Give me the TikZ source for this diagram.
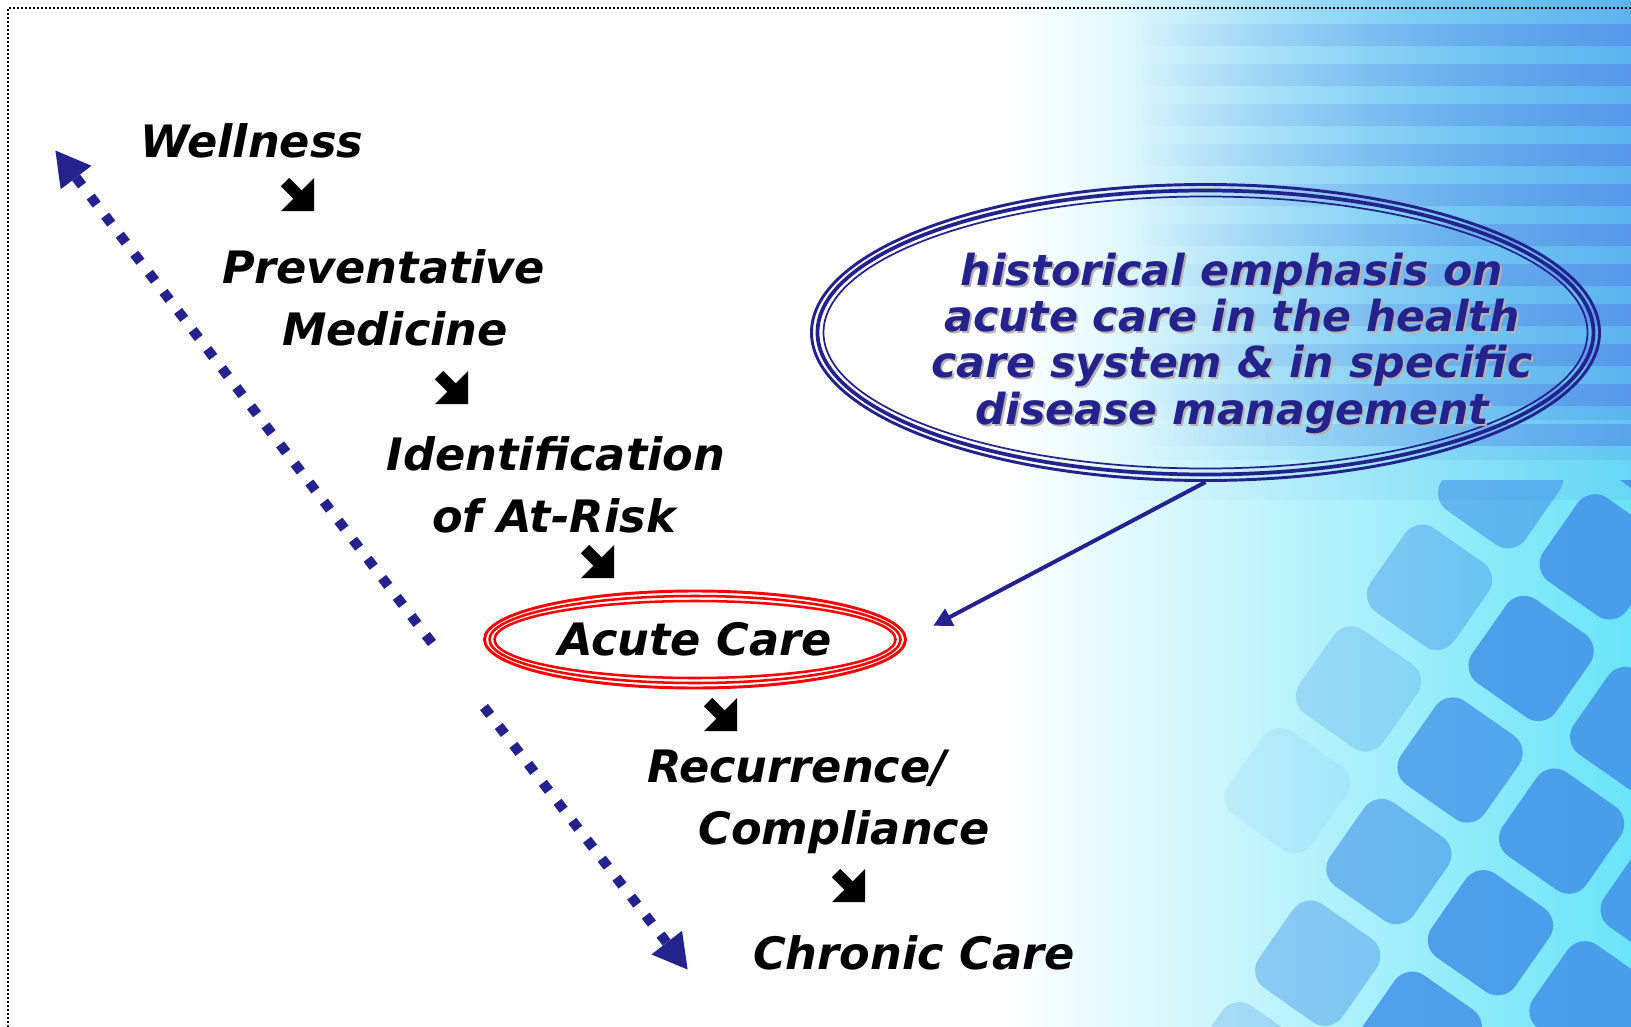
\documentclass[tikz,border=0pt]{standalone}
\usepackage{fontspec}
\setmainfont{DejaVu Sans}[BoldItalicFont={DejaVu Sans Bold Oblique}]
\usepackage{xcolor}
\usepackage{tikz}
\usetikzlibrary{arrows.meta,shapes.geometric,fadings}

\definecolor{navy}{RGB}{36,34,140}
\definecolor{ringred}{RGB}{255,0,0}
\definecolor{bgcyan}{RGB}{104,228,248}
\definecolor{stripeblue}{RGB}{80,120,228}
\definecolor{cellblue}{RGB}{66,146,232}
\definecolor{shade}{RGB}{184,176,178}

\tikzset{
  stage/.style={font=\fontsize{33.5}{40}\selectfont\bfseries\itshape, inner sep=0pt, anchor=base},
  note/.style={font=\fontsize{32}{34.8}\selectfont\bfseries\itshape, align=center, inner sep=0pt},
  dotarrow/.style={navy, line width=7.5pt, dash pattern=on 7.5pt off 10.5pt, -{Triangle[length=26pt,width=27pt]}},
  stepdown/.pic={\fill (0,0) -- (0,33) -- (-12.26,20.74) -- (-24.76,33.24) -- (-33.24,24.76) -- (-20.74,12.26) -- (-33,0) -- cycle;}
}

\begin{document}
\begin{tikzpicture}[x=0.75pt,y=0.75pt,yscale=-1,xscale=1]
\useasboundingbox (0,0) rectangle (1631,1027);

%Backdrop: stripes on top, tiles below
\shade[left color=white, middle color=bgcyan!30, right color=bgcyan] (1000,0) rectangle (1631,1027);
\fill[stripeblue!60!bgcyan, opacity=0.75, path fading=west] (1110,0) rectangle (1631,420);
\fill[stripeblue!60!bgcyan, opacity=0.45, path fading=west] (1110,420) rectangle (1631,460);
\fill[stripeblue!60!bgcyan, opacity=0.2, path fading=west] (1110,460) rectangle (1631,500);
\foreach \y in {24,64,...,424}
  \fill[stripeblue, opacity=0.45, path fading=west] (1140,\y) rectangle (1631,\y+22);
\begin{scope}
  \clip (1080,480) rectangle (1631,1027);
  \foreach \i in {-4,...,4}
    \foreach \j in {-4,...,4}{
      \pgfmathsetmacro\cx{1460+124*(\i*cos(35)-\j*sin(35))}
      \pgfmathsetmacro\cy{760+124*(\i*sin(35)+\j*cos(35))}
      \pgfmathsetmacro\op{max(0,min(0.85,(\cx-1360+0.3*(\cy-480))/240))}
      \fill[cellblue, opacity=\op, rounded corners=16, shift={(\cx,\cy)}, rotate=35] (-51,-51) rectangle (51,51);
    }
\end{scope}

%Frame
\draw[line width=1.5pt, dash pattern=on 1.5pt off 1.5pt] (8,1027) -- (8,8) -- (1631,8);

% Text Node
\node[stage] (well) at (252,158) {Wellness};
\node[stage] (prev) at (384,283) {Preventative};
\node[stage] (prevb) at (395,345) {Medicine};
\node[stage] (ident) at (556,470) {Identification};
\node[stage] (identb) at (554,532.6) {of At-Risk};
\node[stage, ellipse, anchor=center, minimum width=318pt, minimum height=74pt] (acute) at (695,639.5) {Acute Care};
\node[stage] (recur) at (797,782) {Recurrence/};
\node[stage] (recurb) at (844,844.6) {Compliance};
\node[stage] (chron) at (914,969.5) {Chronic Care};

%Shape: Ellipse
\draw[ringred, line width=2.2pt] (acute.center) ellipse [x radius=210.5, y radius=48.5];
\draw[ringred, line width=1.9pt] (acute.center) ellipse [x radius=205.5, y radius=43.5];
\draw[ringred, line width=1.9pt] (acute.center) ellipse [x radius=200.5, y radius=38.5];

%Shape: Ellipse
\node[ellipse, minimum width=593pt, minimum height=224pt, inner sep=0pt] (emph) at (1205.5,332.5) {};
\draw[navy, line width=2.2pt] (emph.center) ellipse [x radius=394, y radius=148];
\draw[navy, line width=2.8pt] (emph.center) ellipse [x radius=388, y radius=142];
\draw[navy, line width=1.3pt] (emph.center) ellipse [x radius=382, y radius=136];

% Text Node
\node[note, text=shade] (emphshade) at (1234,345) {historical emphasis on\\acute care in the health\\care system \& in specific\\disease management};
\node[note, text=navy] (emphtext) at (1232,343) {historical emphasis on\\acute care in the health\\care system \& in specific\\disease management};

%Straight Lines
\draw[navy, line width=3pt, -{Triangle[length=14pt,width=14pt]}, shorten >=22pt] (emph.south) -- (acute.east);

%Dotted arrows
\coordinate (uptip) at (55,150);
\coordinate (upfoot) at (432,643);
\coordinate (downfoot) at (484,707);
\coordinate (downtip) at (688,970);
\draw[dotarrow] (upfoot) -- (uptip);
\draw[dotarrow] (downfoot) -- (downtip);

%Step arrows
\pic at (314,211) {stepdown};
\pic at (468,404) {stepdown};
\pic at (614,578) {stepdown};
\pic at (737,731) {stepdown};
\pic at (865,902) {stepdown};

\end{tikzpicture}
\end{document}
